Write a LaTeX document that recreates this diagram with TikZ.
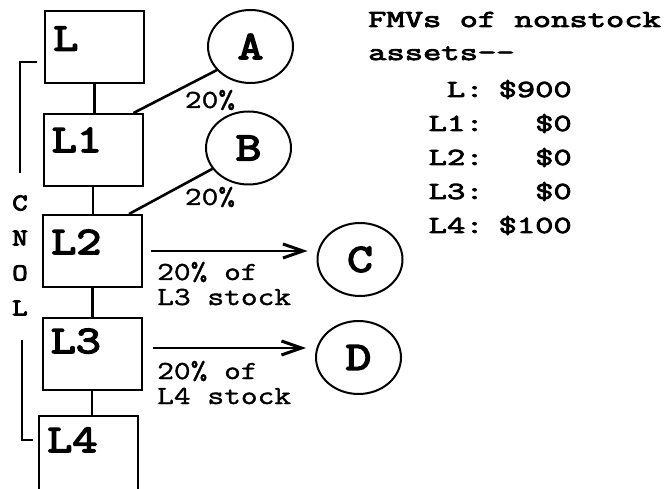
\documentclass[tikz,border=0pt]{standalone}
\usepackage{fontspec}
\newfontfamily\boldmono{Latin Modern Mono}[FakeStretch=1.25, FakeBold=4]
\newfontfamily\widebold{Latin Modern Mono}[FakeStretch=1.45, FakeBold=3.5]
\newfontfamily\plainmono{Latin Modern Mono}[FakeStretch=1.25, FakeBold=1.5]
\usetikzlibrary{arrows.meta,shapes.geometric}

\begin{document}
\begin{tikzpicture}[
    x=1pt, y=-1pt,
    box/.style={rectangle, draw=black, line width=2pt,
                minimum width=99pt, minimum height=72pt, inner sep=0pt},
    boxname/.style={anchor=base west, inner sep=0pt,
                    font=\boldmono\fontsize{39}{39}\selectfont},
    owner/.style={ellipse, draw=black, line width=2pt,
                  minimum width=85pt, minimum height=73pt, inner sep=0pt,
                  font=\boldmono\fontsize{40}{40}\selectfont},
    link/.style={line width=2.6pt},
    arrow/.style={-{Straight Barb[length=20pt,width=14pt,line width=3pt]}, line width=2pt},
    pct/.style={inner sep=0pt, font=\plainmono\fontsize{26}{26}\selectfont},
    stocknote/.style={anchor=base west, inner sep=0pt,
                      font=\plainmono\fontsize{26}{25}\selectfont},
    side/.style={inner sep=0pt, font=\boldmono\fontsize{24}{24}\selectfont},
    fmv/.style={inner sep=0pt, font=\widebold\fontsize{24.5}{34}\selectfont},
]
\useasboundingbox (0,0) rectangle (670,489);
\clip (0,0) rectangle (670,489);

% Chain of corporations
\node[box] (L)  at (94.5,47.5) {};
\node[box] (L1) at (93,150) {};
\node[box] (L2) at (92.5,251) {};
\node[box] (L3) at (92,354) {};
\node[box, minimum height=80pt] (L4) at (88.5,456) {};

\node[boxname] (Ltxt)  at ([xshift=9pt,yshift=-40pt]L.north west) {L};
\node[boxname] (L1txt) at ([xshift=9pt,yshift=-39pt]L1.north west) {L1};
\node[boxname] (L2txt) at ([xshift=9pt,yshift=-40pt]L2.north west) {L2};
\node[boxname] (L3txt) at ([xshift=9pt,yshift=-36pt]L3.north west) {L3};
\node[boxname] (L4txt) at ([xshift=9pt,yshift=-37pt]L4.north west) {L4};

\draw[link] (L.south)  -- (L.south |- L1.north);
\draw[link] (L1.south) -- (L1.south |- L2.north);
\draw[link] (L2.south) -- (L2.south |- L3.north);
\draw[link] (L3.south) -- (L3.south |- L4.north);

% Outside holders
\node[owner] (A) at (250.5,46.5) {A};
\node[owner] (B) at (248.5,148) {B};
\node[owner] (C) at (360,259.5) {C};
\node[owner] (D) at (358.5,357.5) {D};

\draw[link] ([xshift=-10pt]L1.north east) -- (A.215);
\draw[link] ([xshift=-14pt]L2.north east) -- (B.210);
\node[pct] (pA) at (210,100) {20\%};
\node[pct] (pB) at (210,197) {20\%};

\draw[arrow, shorten <=8pt, shorten >=9pt] (L2.east) -- (L2.east -| C.west);
\draw[arrow, shorten <=10pt, shorten >=9pt] ([yshift=6pt]L3.east) -- ([yshift=6pt]L3.east -| D.west);
\node[stocknote] (nC) at (157,280) {\begin{tabular}[t]{@{}l@{}}20\% of\\L3 stock\end{tabular}};
\node[stocknote] (nD) at (157,379) {\begin{tabular}[t]{@{}l@{}}20\% of\\L4 stock\end{tabular}};

% CNOL bracket
\foreach \ch [count=\i] in {C,N,O,L}
    \node[side] (side\i) at (20,168+35*\i) {\ch};
\draw[line width=2pt] (37,62) -- (20,62) -- (20,173);
\draw[line width=2pt] (22,340) -- (22,440) -- (33,440);

% FMV table
\node[fmv, anchor=base west] (fmvhead) at (368,27) {FMVs of nonstock};
\node[fmv, anchor=base west] (fmvsub) at (368,60) {assets-{}-};
\node[fmv, anchor=base east] (fmvtab) at (572,97) {\begin{tabular}[t]{@{}r@{\hspace{15pt}}r@{}}
    L:&\$900\\
    L1:&\$0\\
    L2:&\$0\\
    L3:&\$0\\
    L4:&\$100
\end{tabular}};

\end{tikzpicture}
\end{document}
